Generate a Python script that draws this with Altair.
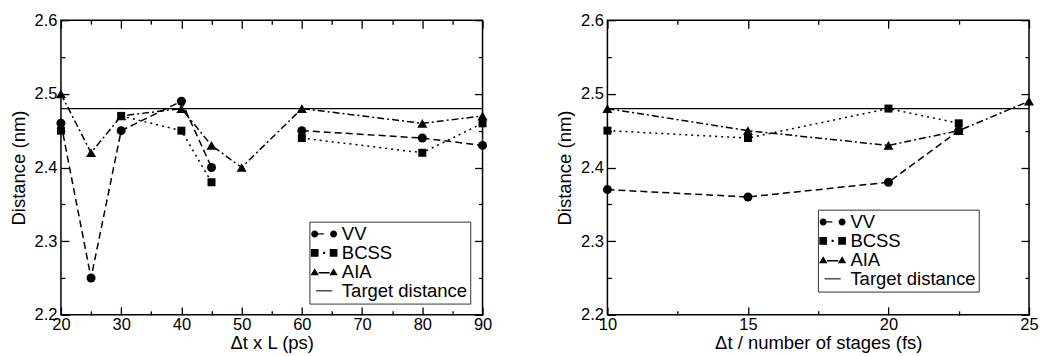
import altair as alt
import pandas as pd

FONT = "Liberation Sans"

# ---------------- data ----------------
SERIES = ["VV", "BCSS", "AIA"]
LEGEND_LABELS = ["VV", "BCSS", "AIA", "Target distance"]
TARGET = 2.48

# left panel: Δt x L (ps)
L_X = [20, 25, 30, 40, 45, 50, 60, 80, 90]
L_VV = [2.46, 2.25, 2.45, 2.49, 2.40, None, 2.45, 2.44, 2.43]
L_BCSS = [2.45, None, 2.47, 2.45, 2.38, None, 2.44, 2.42, 2.46]
L_AIA = [2.50, 2.42, 2.47, 2.48, 2.43, 2.40, 2.48, 2.46, 2.47]

# right panel: Δt / number of stages (fs)
R_X = [10, 15, 20, 22.5, 25]
R_VV = [2.37, 2.36, 2.38, 2.45, None]
R_BCSS = [2.45, 2.44, 2.48, 2.46, None]
R_AIA = [2.48, 2.45, 2.43, 2.45, 2.49]

L_XTICKS = [20, 30, 40, 50, 60, 70, 80, 90]
L_XMINOR = [25, 35, 45, 55, 65, 75, 85]
R_XTICKS = [10, 15, 20, 25]
R_XMINOR = [12.5, 17.5, 22.5]
Y_TICKS = [2.2, 2.3, 2.4, 2.5, 2.6]
Y_MINOR = [2.25, 2.35, 2.45, 2.55]

# ---------------- styles ----------------
DASHES = [[7, 4], [2, 4], [7, 3, 2, 3]]
SHAPES = ["circle", "square", "triangle-up"]
SIZES = [81, 64, 100]


def circ(cx):
    return f"M{cx-1},0A1,1,0,1,1,{cx+1},0A1,1,0,1,1,{cx-1},0Z"


def sq(cx):
    return f"M{cx-1.1},-1.1H{cx+1.1}V1.1H{cx-1.1}Z"


def tri(cx):
    return f"M{cx},-1.05L{cx+1.2},1L{cx-1.2},1Z"


LEGEND_PATHS = [
    circ(-2.7) + "M-1.8,-0.2H-0.1V0.2H-1.8Z" + circ(2.7),
    sq(-2.7) + "M-0.3,-0.3H0.3V0.3H-0.3Z" + sq(2.7),
    tri(-2.7) + "M-1.6,0.05H1.6V0.45H-1.6Z" + tri(2.7),
    "M-2.3,-0.15H2.3V0.15H-2.3Z",
]


def long_df(xs, vals_list):
    rows = []
    for name, vals in zip(SERIES, vals_list):
        seg = 0
        for x, v in zip(xs, vals):
            if v is None:
                seg += 1
                continue
            rows.append({"x": x, "y": v, "series": name, "seg": f"{name}-{seg}"})
    return pd.DataFrame(rows)


def panel(df, xdom, xmaj, xmin, xtitle, lx, ly):
    xs = alt.Scale(domain=xdom, nice=False, zero=False)
    ys = alt.Scale(domain=[2.2, 2.6], nice=False, zero=False)
    base = alt.Chart(df)

    target = alt.Chart(pd.DataFrame({"t": [TARGET]})).mark_rule(
        color="black", strokeWidth=1.2
    ).encode(y=alt.Y("t:Q", scale=ys, axis=None))

    lines = base.mark_line(color="black", strokeWidth=1.5).encode(
        x=alt.X("x:Q", scale=xs, axis=None),
        y=alt.Y("y:Q", scale=ys, axis=None),
        detail="seg:N",
        strokeDash=alt.StrokeDash(
            "series:N", scale=alt.Scale(domain=SERIES, range=DASHES), legend=None
        ),
    )

    pts = []
    for s, sh, sz in zip(SERIES, SHAPES, SIZES):
        pts.append(
            base.transform_filter(alt.datum.series == s)
            .mark_point(shape=sh, size=sz, filled=True, color="black", opacity=1)
            .encode(
                x=alt.X("x:Q", scale=xs, axis=None),
                y=alt.Y("y:Q", scale=ys, axis=None),
            )
        )

    def carrier(xaxis, yaxis):
        return base.mark_point(opacity=0, size=1).encode(
            x=alt.X("x:Q", scale=xs, axis=xaxis),
            y=alt.Y("y:Q", scale=ys, axis=yaxis),
        )

    c1 = carrier(
        alt.Axis(orient="bottom", values=xmaj, tickSize=8, offset=-8, labelPadding=1.5,
                 labelFlush=False, format="d", title=xtitle, titlePadding=1),
        alt.Axis(orient="left", values=Y_TICKS, tickSize=8, offset=-8, labelPadding=4,
                 format=".1f", title="Distance (nm)", titlePadding=6),
    )
    c2 = carrier(
        alt.Axis(orient="top", values=xmaj, tickSize=8, offset=-8, labels=False, title=None),
        alt.Axis(orient="right", values=Y_TICKS, tickSize=8, offset=-8, labels=False, title=None),
    )
    c3 = carrier(
        alt.Axis(orient="bottom", values=xmin, tickSize=4, offset=-4, labels=False, title=None),
        alt.Axis(orient="left", values=Y_MINOR, tickSize=4, offset=-4, labels=False, title=None),
    )
    c4 = carrier(
        alt.Axis(orient="top", values=xmin, tickSize=4, offset=-4, labels=False, title=None),
        alt.Axis(orient="right", values=Y_MINOR, tickSize=4, offset=-4, labels=False, title=None),
    )

    leg = (
        alt.Chart(pd.DataFrame({"label": LEGEND_LABELS}))
        .transform_filter("false")
        .mark_point(filled=True, opacity=1, color="black", size=49)
        .encode(
            shape=alt.Shape(
                "label:N",
                scale=alt.Scale(domain=LEGEND_LABELS, range=LEGEND_PATHS),
                legend=alt.Legend(title=None, orient="none", legendX=lx, legendY=ly),
            )
        )
    )

    return (
        alt.layer(target, lines, *pts, c1, c2, c3, c4, leg)
        .resolve_axis(x="independent", y="independent")
        .properties(width=422, height=295)
    )


left = panel(long_df(L_X, [L_VV, L_BCSS, L_AIA]), [20, 90], L_XTICKS, L_XMINOR,
             "\u0394t x L (ps)", 248.7, 201.7)
right = panel(long_df(R_X, [R_VV, R_BCSS, R_AIA]), [10, 25], R_XTICKS, R_XMINOR,
              "\u0394t / number of stages (fs)", 210.7, 189.7)

chart = (
    alt.hconcat(left, right, spacing=125, bounds="flush")
    .resolve_scale(shape="independent", strokeDash="independent")
    .resolve_legend(shape="independent", strokeDash="independent")
    .properties(padding={"left": 8, "top": 11, "right": 1, "bottom": 2})
    .configure_view(stroke="black", strokeWidth=1.5)
    .configure_axis(
        labelFont=FONT, titleFont=FONT, labelFontSize=16.5, titleFontSize=18.5,
        labelColor="black", titleColor="black", titleFontWeight="normal",
        tickColor="black", tickWidth=1.3, grid=False, domain=False,
    )
    .configure_legend(
        labelFont=FONT, labelFontSize=18.5, labelColor="black", padding=3,
        rowPadding=0, symbolSize=49, symbolOffset=2.5, labelOffset=8.5,
        fillColor="white", strokeColor="#333333", symbolFillColor="black",
        symbolStrokeWidth=0, symbolStrokeColor="black",
    )
)

chart.save("out.html", embed_options={"renderer": "svg", "actions": False})
